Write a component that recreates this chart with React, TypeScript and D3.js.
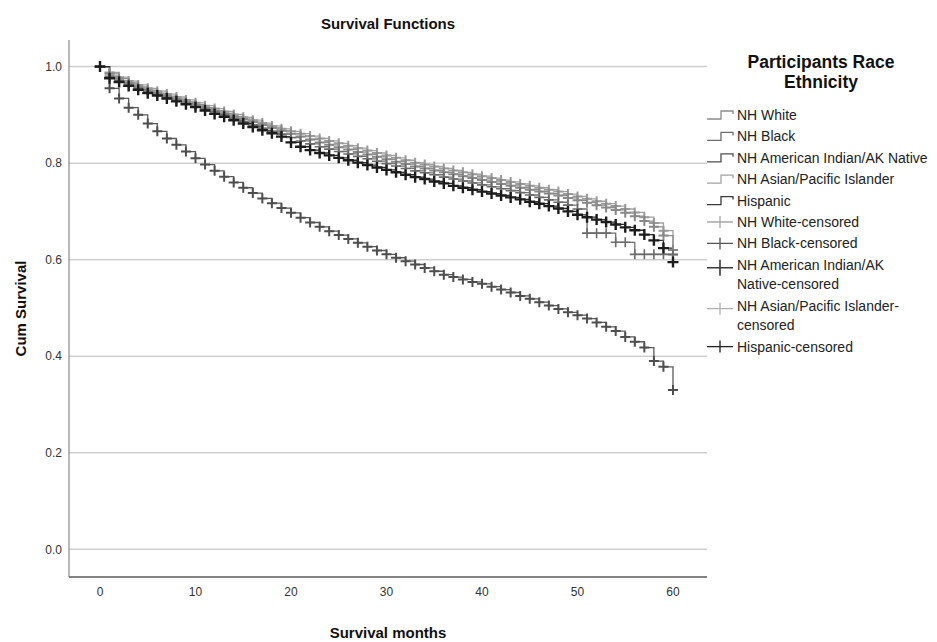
import React from 'react';
import * as d3 from 'd3';

// months 0..60
const months = [
  0, 1, 2, 3, 4, 5, 6, 7, 8, 9, 10, 11, 12, 13, 14, 15, 16, 17, 18, 19, 20,
  21, 22, 23, 24, 25, 26, 27, 28, 29, 30, 31, 32, 33, 34, 35, 36, 37, 38, 39, 40,
  41, 42, 43, 44, 45, 46, 47, 48, 49, 50, 51, 52, 53, 54, 55, 56, 57, 58, 59, 60,
];

const nhWhite = [
  1.0, 0.985, 0.975, 0.966, 0.958, 0.951, 0.945, 0.939, 0.933, 0.927, 0.921,
  0.915, 0.909, 0.903, 0.897, 0.891, 0.885, 0.879, 0.873, 0.867, 0.861,
  0.855, 0.849, 0.843, 0.838, 0.833, 0.828, 0.823, 0.818, 0.813, 0.808,
  0.803, 0.798, 0.793, 0.789, 0.785, 0.781, 0.777, 0.773, 0.769, 0.765,
  0.761, 0.757, 0.753, 0.749, 0.745, 0.741, 0.737, 0.733, 0.728, 0.723,
  0.718, 0.713, 0.708, 0.703, 0.697, 0.690, 0.680, 0.668, 0.650, 0.620,
];

const nhBlack = [
  1.0, 0.955, 0.934, 0.915, 0.9, 0.882, 0.866, 0.851, 0.838, 0.824, 0.81,
  0.797, 0.784, 0.772, 0.76, 0.749, 0.738, 0.727, 0.717, 0.707, 0.697,
  0.687, 0.677, 0.668, 0.659, 0.651, 0.643, 0.635, 0.627, 0.619, 0.611,
  0.604, 0.597, 0.590, 0.583, 0.576, 0.569, 0.564, 0.559, 0.554, 0.55,
  0.544, 0.538, 0.532, 0.525, 0.519, 0.512, 0.505, 0.498, 0.491, 0.485,
  0.478, 0.47, 0.461, 0.452, 0.44, 0.43, 0.418, 0.39, 0.378, 0.33,
];

const nhAmIndian = [
  1.0, 0.98, 0.971, 0.963, 0.955, 0.948, 0.942, 0.936, 0.93, 0.924, 0.918,
  0.912, 0.906, 0.9, 0.893, 0.886, 0.879, 0.872, 0.866, 0.86, 0.853,
  0.846, 0.84, 0.834, 0.829, 0.824, 0.819, 0.814, 0.809, 0.804, 0.799,
  0.794, 0.789, 0.784, 0.78, 0.776, 0.771, 0.767, 0.763, 0.759, 0.755,
  0.751, 0.747, 0.743, 0.739, 0.734, 0.729, 0.724, 0.719, 0.713, 0.705,
  0.655, 0.655, 0.655, 0.636, 0.636, 0.611, 0.611, 0.611, 0.611, 0.611,
];

const nhAsian = [
  1.0, 0.988, 0.978, 0.97, 0.962, 0.955, 0.949, 0.943, 0.937, 0.931, 0.925,
  0.919, 0.913, 0.907, 0.901, 0.895, 0.889, 0.883, 0.877, 0.871, 0.866,
  0.861, 0.856, 0.851, 0.846, 0.841, 0.836, 0.831, 0.826, 0.821, 0.816,
  0.811, 0.806, 0.801, 0.797, 0.793, 0.789, 0.785, 0.781, 0.777, 0.773,
  0.769, 0.765, 0.761, 0.757, 0.753, 0.749, 0.745, 0.741, 0.736, 0.731,
  0.726, 0.721, 0.716, 0.711, 0.705, 0.698, 0.688, 0.676, 0.66, 0.61,
];

const hispanic = [
  1.0, 0.976, 0.968, 0.96, 0.952, 0.945, 0.94, 0.934, 0.928, 0.922, 0.916,
  0.909, 0.902, 0.896, 0.889, 0.882, 0.875, 0.868, 0.862, 0.855, 0.843,
  0.834, 0.827, 0.821, 0.816, 0.811, 0.806, 0.801, 0.796, 0.791, 0.786,
  0.781, 0.776, 0.771, 0.767, 0.762, 0.758, 0.753, 0.749, 0.745, 0.741,
  0.737, 0.733, 0.729, 0.725, 0.72, 0.716, 0.711, 0.706, 0.7, 0.693,
  0.688, 0.683, 0.678, 0.673, 0.667, 0.661, 0.652, 0.64, 0.624, 0.595,
];

const xTicks = [0, 10, 20, 30, 40, 50, 60];
const yTicks = [0.0, 0.2, 0.4, 0.6, 0.8, 1.0];

const legendLabels = [
  ['NH White'],
  ['NH Black'],
  ['NH American Indian/AK Native'],
  ['NH Asian/Pacific Islander'],
  ['Hispanic'],
  ['NH White-censored'],
  ['NH Black-censored'],
  ['NH American Indian/AK', 'Native-censored'],
  ['NH Asian/Pacific Islander-', 'censored'],
  ['Hispanic-censored'],
];

const FONT = "Arial, 'Liberation Sans', sans-serif";

// drawing order: light grays underneath, darkest on top
const series = [
  { name: 'NH Asian/Pacific Islander', values: nhAsian, line: '#a2a2a2', mark: '#9a9a9a', size: 5, sw: 2 },
  { name: 'NH White', values: nhWhite, line: '#8c8c8c', mark: '#888888', size: 5, sw: 2 },
  { name: 'NH American Indian/AK Native', values: nhAmIndian, line: '#707070', mark: '#6a6a6a', size: 5, sw: 1.6 },
  { name: 'NH Black', values: nhBlack, line: '#5a5a5a', mark: '#4e4e4e', size: 5, sw: 2 },
  { name: 'Hispanic', values: hispanic, line: '#2a2a2a', mark: '#1c1c1c', size: 5.5, sw: 2.4 },
];

const legendLine = ['#8c8c8c', '#6e6e6e', '#4e4e4e', '#a2a2a2', '#3a3a3a'];
const legendMark = ['#a8a8a8', '#555555', '#3a3a3a', '#b0b0b0', '#1c1c1c'];

const cross = (cx: number, cy: number, s: number) =>
  `M${cx - s},${cy}H${cx + s}M${cx},${cy - s}V${cy + s}`;

export default function App() {
  const left = 69;
  const right = 707;
  const top = 40;
  const bottom = 577;

  const x = d3.scaleLinear().domain([0, 60]).range([100, 673]);
  const y = d3.scaleLinear().domain([0, 1]).range([549.3, 66.6]);

  const line = d3
    .line<number>()
    .x((_, i) => x(months[i]))
    .y((d) => y(d))
    .curve(d3.curveStepAfter);

  // legend rows
  const rowY: number[] = [];
  let cy = 115;
  legendLabels.forEach((lines, i) => {
    rowY.push(cy);
    cy += 21.4 + (lines.length - 1) * 19.5;
  });

  return (
    <svg
      width={937}
      height={642}
      style={{ position: 'absolute', left: 0, top: 0, background: '#fff' }}
      fontFamily={FONT}
    >
      <rect width={937} height={642} fill="#fff" />
      <text x={388} y={24} dy="0.35em" textAnchor="middle" fontWeight="bold" fontSize={15} fill="#111">
        Survival Functions
      </text>

      {/* gridlines */}
      {yTicks.map((t) => (
        <line key={t} x1={left} x2={right} y1={y(t)} y2={y(t)} stroke="#cfcfcf" strokeWidth={1.5} />
      ))}

      {/* axes */}
      <line x1={left} x2={left} y1={top} y2={bottom} stroke="#8a8a8a" strokeWidth={1.2} />
      <line x1={left} x2={right} y1={bottom} y2={bottom} stroke="#5a5a5a" strokeWidth={1.5} />

      {yTicks.map((t) => (
        <text key={t} x={62} y={y(t)} dy="0.35em" textAnchor="end" fontSize={12} fill="#333">
          {d3.format('.1f')(t)}
        </text>
      ))}
      {xTicks.map((t) => (
        <text key={t} x={x(t)} y={592} dy="0.35em" textAnchor="middle" fontSize={12} fill="#333">
          {t}
        </text>
      ))}

      <text x={388} y={633} dy="0.35em" textAnchor="middle" fontWeight="bold" fontSize={15} fill="#111">
        Survival months
      </text>
      <text
        transform={`translate(21,${(top + bottom) / 2}) rotate(-90)`}
        dy="0.35em"
        textAnchor="middle"
        fontWeight="bold"
        fontSize={15}
        fill="#111"
      >
        Cum Survival
      </text>

      {/* survival step lines */}
      {series.map((s) => (
        <path key={s.name} d={line(s.values) || ''} fill="none" stroke={s.line} strokeWidth={1.3} />
      ))}
      {/* censored marks */}
      {series.map((s) => (
        <path
          key={s.name + '-c'}
          d={s.values.map((v, i) => cross(x(months[i]), y(v), s.size)).join('')}
          fill="none"
          stroke={s.mark}
          strokeWidth={s.sw}
        />
      ))}

      {/* legend */}
      <text x={821} y={62} dy="0.35em" textAnchor="middle" fontWeight="bold" fontSize={17.5} fill="#111">
        Participants Race
      </text>
      <text x={821} y={82} dy="0.35em" textAnchor="middle" fontWeight="bold" fontSize={17.5} fill="#111">
        Ethnicity
      </text>
      {legendLabels.map((lines, i) => {
        const ly = rowY[i];
        const sy = lines.length > 1 ? ly + 3 : ly;
        const isStep = i < 5;
        const k = i % 5;
        const big = i === 7;
        return (
          <g key={i}>
            {isStep ? (
              <path
                d={`M707,${sy + 4}H721V${sy - 4}H733V${sy - 1}`}
                fill="none"
                stroke={legendLine[k]}
                strokeWidth={1.3}
              />
            ) : (
              <path
                d={`M707,${sy}H733M720,${sy - (big ? 8 : 6)}V${sy + (big ? 8 : 6)}`}
                fill="none"
                stroke={legendMark[k]}
                strokeWidth={big ? 1.6 : 1.3}
              />
            )}
            {lines.map((t, j) => (
              <text key={j} x={737} y={ly + j * 19.5} dy="0.35em" fontSize={14} fill="#222">
                {t}
              </text>
            ))}
          </g>
        );
      })}
    </svg>
  );
}
